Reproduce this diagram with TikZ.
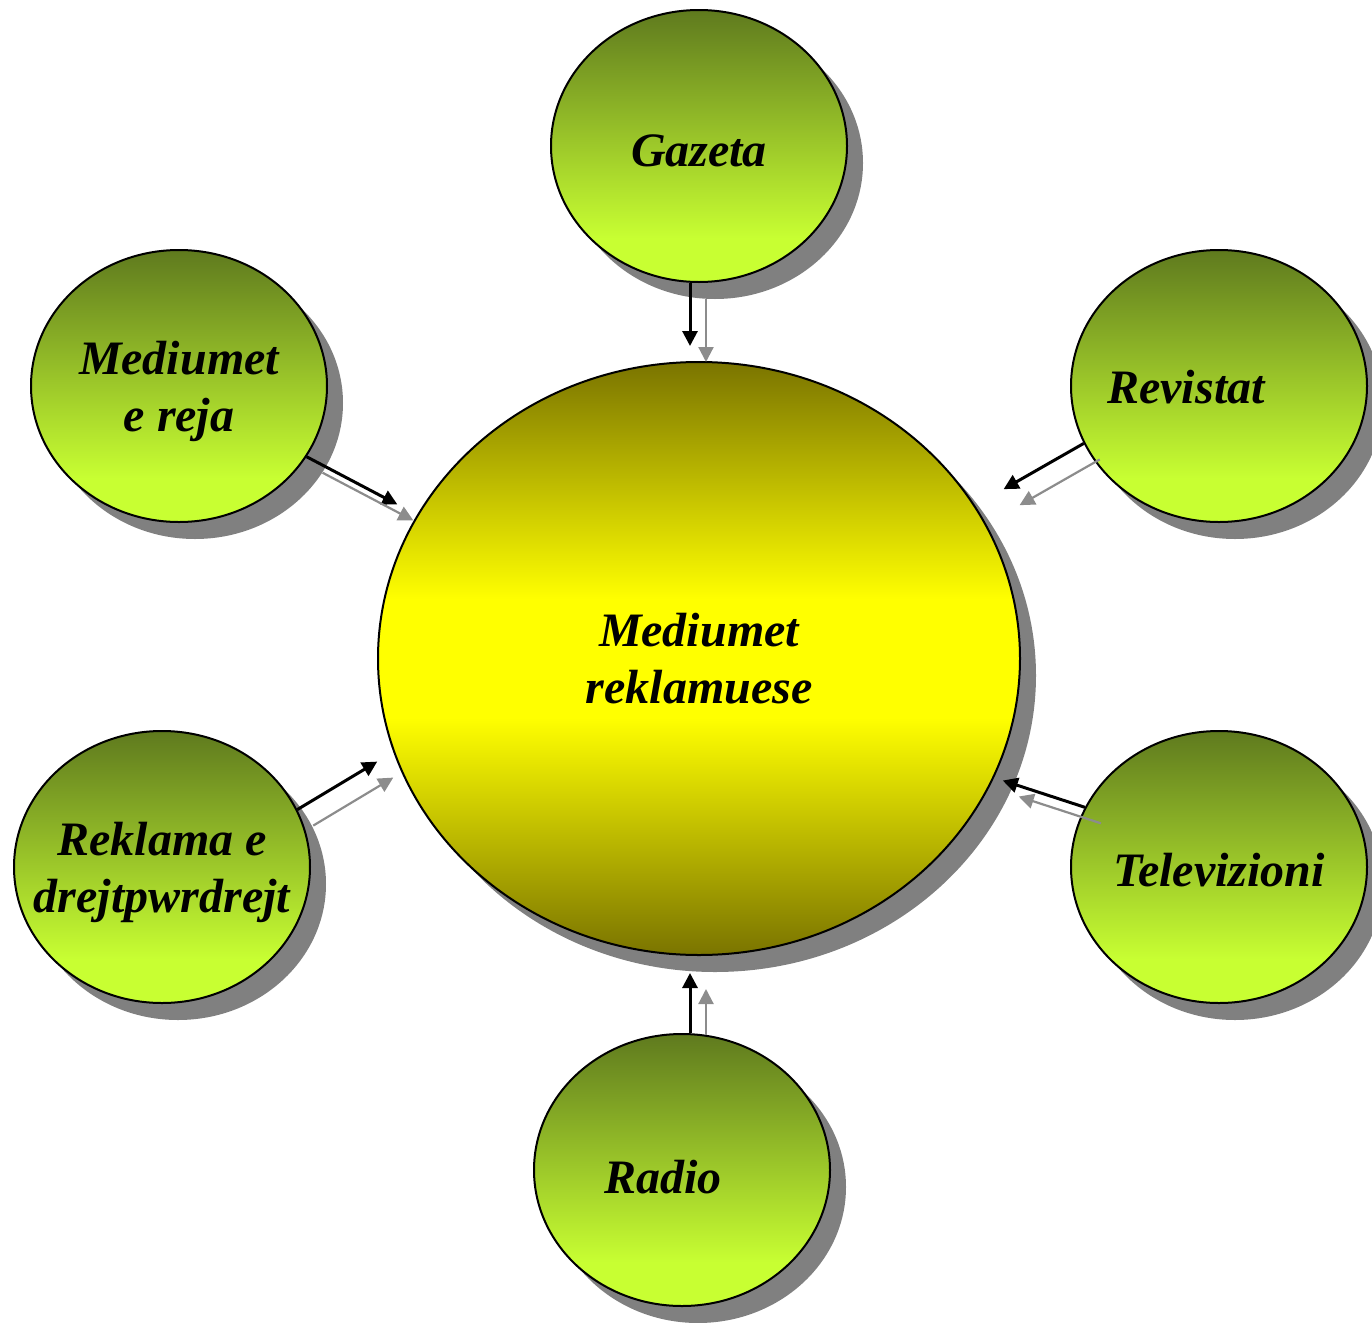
\documentclass[tikz,border=0pt]{standalone}
\usepackage{fontspec}
\setmainfont{Liberation Serif}
\usetikzlibrary{arrows.meta,shapes.geometric,shadows}

\definecolor{leafdark}{RGB}{95,122,30}
\definecolor{leaflight}{RGB}{200,255,50}
\definecolor{hubedge}{RGB}{122,116,0}
\definecolor{hubmid}{RGB}{255,255,0}
\definecolor{shadowgray}{RGB}{128,128,128}
\definecolor{tailgray}{RGB}{140,140,140}

% lime at the bottom, deep olive green at the top
\pgfdeclareverticalshading{leafshade}{100bp}{%
  color(0bp)=(leaflight); color(33bp)=(leaflight);
  color(75bp)=(leafdark); color(100bp)=(leafdark)}
% olive at top and bottom, a band of yellow across the middle
\pgfdeclareverticalshading{hubshade}{100bp}{%
  color(0bp)=(hubedge); color(25bp)=(hubedge);
  color(45bp)=(hubmid); color(55bp)=(hubmid);
  color(75bp)=(hubedge); color(100bp)=(hubedge)}

% centred lines, moved down by #1 without changing the box size
\newcommand\medialabel[2]{%
  \raisebox{#1}[\height][\depth]{\begin{tabular}{@{}c@{}}#2\end{tabular}}}

\tikzset{
  basefont/.style={font=\bfseries\itshape\fontsize{24pt}{28.5pt}\selectfont},
  castshadow/.style={drop shadow={shadow xshift=8pt, shadow yshift=-8.5pt,
      fill=shadowgray, opacity=1}},
  leaf/.style={ellipse, draw=black, line width=1pt, inner sep=0pt,
    minimum width=148pt, minimum height=136pt,
    shade, shading=leafshade, castshadow, basefont},
  hub/.style={ellipse, draw=black, line width=1pt, inner sep=0pt,
    minimum width=321pt, minimum height=296.5pt,
    shade, shading=hubshade, castshadow, basefont},
  feed/.style={draw=black, line width=1.5pt,
    -{Triangle[length=7.5pt,width=7.5pt]}},
  feedshadow/.style={draw=tailgray, line width=1.1pt,
    -{Triangle[length=7.5pt,width=7.5pt]}},
}

\begin{document}
\begin{tikzpicture}[x=0.5pt,y=-0.5pt]
\useasboundingbox (0,0) rectangle (1372,1323);

% central medium and the six channels around it
\node[hub] (hub) at (699,658.5)
  {\medialabel{-2.5pt}{\makebox[0pt]{Mediumet}\\\makebox[0pt]{reklamuese}}};
\node[leaf] (gazeta) at (699,146)
  {\medialabel{-4.6pt}{\makebox[0pt]{Gazeta}}};
\node[leaf] (reja) at (179,386)
  {\medialabel{-2.6pt}{\makebox[0pt]{Mediumet}\\\makebox[0pt]{e reja}}};
\node[leaf] (revistat) at (1219,386)
  {\medialabel{-2.8pt}{\makebox[0pt]{Revistat\hspace*{33pt}}}};
\node[leaf] (reklama) at (162,867)
  {\medialabel{-2.8pt}{\makebox[0pt]{Reklama e}\\\makebox[0pt]{drejtpwrdrejt}}};
\node[leaf] (tv) at (1219,867)
  {\medialabel{-3.8pt}{\makebox[0pt]{Televizioni}}};
\node[leaf] (radio) at (682,1170)
  {\medialabel{-6pt}{\makebox[0pt]{Radio\hspace*{19pt}}}};

% arrows into the centre, each with its offset grey copy
\draw[feed, shorten >=7.5pt] ([xshift=-4.5pt]gazeta.south) -- ([xshift=-4.5pt]hub.north);
\draw[feedshadow, shorten >=7.5pt]
  ([xshift=3.5pt,yshift=-8pt]gazeta.south) -- ([xshift=3.5pt,yshift=-8pt]hub.north);

\draw[feed, shorten >=11.1pt] (reja.-29.65) -- (hub.153.5);
\draw[feedshadow, shorten >=11.1pt]
  ([shift={(16,16)}]reja.-29.65) -- ([shift={(16,16)}]hub.153.5);

\draw[feed, shorten >=16.4pt] (revistat.203.68) -- (hub.29.0);
\draw[feedshadow, shorten >=16.4pt]
  ([shift={(16,16)}]revistat.203.68) -- ([shift={(16,16)}]hub.29.0);

\draw[feed, shorten >=9.35pt] (reklama.23.68) -- (hub.197.7);
\draw[feedshadow, shorten >=9.35pt]
  ([shift={(16,16)}]reklama.23.68) -- ([shift={(16,16)}]hub.197.7);

\draw[feed, shorten >=4.6pt] (tv.156.5) -- (hub.338.5);
\draw[feedshadow, shorten >=4.6pt]
  ([shift={(16,16)}]tv.156.5) -- ([shift={(16,16)}]hub.338.5);

\draw[feed, shorten >=8.5pt] ([xshift=4pt]radio.north) -- ([xshift=-4.5pt]hub.south);
\draw[feedshadow, shorten >=8.5pt]
  ([xshift=12pt,yshift=-1pt]radio.north) -- ([xshift=3.5pt,yshift=-8pt]hub.south);
\end{tikzpicture}
\end{document}
